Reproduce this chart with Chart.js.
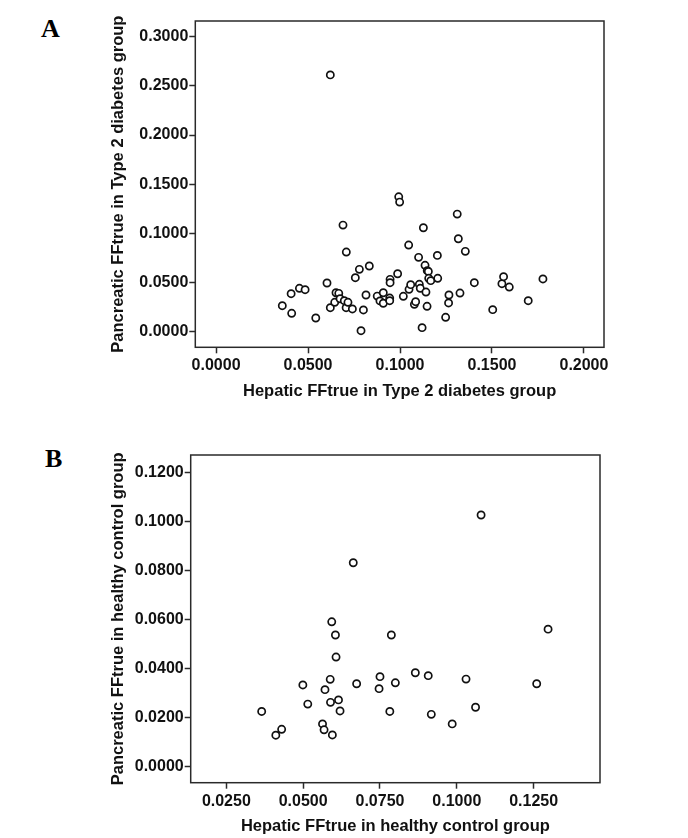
<!DOCTYPE html>
<html lang="en">
<head>
<meta charset="UTF-8">
<title>Hepatic vs pancreatic FFtrue</title>
<script src="https://cdn.jsdelivr.net/npm/chart.js@4.4.0/dist/chart.umd.min.js"></script>
<style>
    body {
        margin: 0;
        width: 688px;
        height: 838px;
        position: relative;
        overflow: hidden;
        background: #fff;
    }
    .panel {
        position: absolute;
        left: 0;
        width: 688px;
    }
    #panelA { top: 0; height: 420px; }
    #panelB { top: 420px; height: 418px; }
    .letter {
        position: absolute;
        font-family: "Liberation Serif", "Times New Roman", serif;
        font-weight: bold;
        font-size: 26px;
        line-height: 26px;
        color: #000;
    }
</style>
</head>
<body>
<div class="letter" style="left:41px; top:16px;">A</div>
<div class="letter" style="left:45px; top:446px;">B</div>
<div class="panel" id="panelA"><canvas id="chartA"></canvas></div>
<div class="panel" id="panelB"><canvas id="chartB"></canvas></div>

<script>
// Panel A: Type 2 diabetes group
const hepaticT2D = [
    0.0360, 0.0408, 0.0411, 0.0453, 0.0484, 0.0542, 0.0603, 0.0621, 0.0645, 0.0652,
    0.0667, 0.0674, 0.0690, 0.0697, 0.0707, 0.0708, 0.0717, 0.0741, 0.0757, 0.0779,
    0.0788, 0.0801, 0.0815, 0.0833, 0.0876, 0.0891, 0.0909, 0.0909, 0.0946, 0.0946,
    0.0944, 0.0944, 0.0987, 0.0993, 0.0998, 0.1018, 0.1047, 0.1049, 0.1058, 0.1078,
    0.1085, 0.1101, 0.1105, 0.1110, 0.1120, 0.1127, 0.1136, 0.1141, 0.1148, 0.1154,
    0.1147, 0.1156, 0.1167, 0.1203, 0.1205, 0.1248, 0.1264, 0.1266, 0.1311, 0.1317,
    0.1326, 0.1355, 0.1404, 0.1504, 0.1554, 0.1563, 0.1594, 0.1697, 0.1777, 0.0621
];
const pancreaticT2D = [
    0.0264, 0.0386, 0.0187, 0.0441, 0.0427, 0.0139, 0.0495, 0.0244, 0.0299, 0.0396,
    0.0390, 0.0335, 0.1084, 0.0315, 0.0244, 0.0810, 0.0299, 0.0231, 0.0549, 0.0634,
    0.0010, 0.0221, 0.0373, 0.0668, 0.0362, 0.0313, 0.0396, 0.0289, 0.0532, 0.0498,
    0.0342, 0.0315, 0.0589, 0.1372, 0.1318, 0.0360, 0.0881, 0.0431, 0.0478, 0.0278,
    0.0305, 0.0756, 0.0482, 0.0441, 0.0041, 0.1057, 0.0675, 0.0403, 0.0620, 0.0613,
    0.0258, 0.0543, 0.0519, 0.0776, 0.0543, 0.0146, 0.0292, 0.0373, 0.1196, 0.0945,
    0.0393, 0.0817, 0.0498, 0.0224, 0.0488, 0.0559, 0.0454, 0.0315, 0.0536, 0.2612
];
const xTicksA = [0, 0.05, 0.10, 0.15, 0.20];
const yTicksA = [0, 0.05, 0.10, 0.15, 0.20, 0.25, 0.30];

// Panel B: healthy control group
const hepaticControl = [
    0.0365, 0.0411, 0.0430, 0.0499, 0.0515, 0.0563, 0.0568, 0.0571, 0.0588, 0.0589,
    0.0595, 0.0605, 0.0607, 0.0615, 0.0620, 0.0674, 0.0747, 0.0750, 0.0782, 0.0787,
    0.0800, 0.0865, 0.0907, 0.0917, 0.0985, 0.1030, 0.1061, 0.1260, 0.1297, 0.0593,
    0.1079, 0.0663
];
const pancreaticControl = [
    0.0224, 0.0127, 0.0151, 0.0332, 0.0254, 0.0173, 0.0149, 0.0313, 0.0355, 0.0261,
    0.0128, 0.0536, 0.0446, 0.0271, 0.0226, 0.0337, 0.0317, 0.0366, 0.0224, 0.0536,
    0.0341, 0.0382, 0.0370, 0.0212, 0.0173, 0.0356, 0.0241, 0.0337, 0.0560, 0.0590,
    0.1026, 0.0831
];
const xTicksB = [0.025, 0.050, 0.075, 0.100, 0.125];
const yTicksB = [0, 0.02, 0.04, 0.06, 0.08, 0.10, 0.12];

Chart.defaults.font.family = '"Liberation Sans", Arial, Helvetica, sans-serif';
Chart.defaults.color = '#111';

const INK = '#2a2a2a';

// box around the plot area
const framePlugin = {
    id: 'frame',
    beforeDatasetsDraw(chart) {
        const { ctx, chartArea: a } = chart;
        ctx.save();
        ctx.strokeStyle = INK;
        ctx.lineWidth = 1.5;
        ctx.strokeRect(a.left, a.top, a.right - a.left, a.bottom - a.top);
        ctx.restore();
    }
};

function axis(cfg) {
    return {
        type: 'linear',
        min: cfg.min,
        max: cfg.max,
        afterBuildTicks: scale => { scale.ticks = cfg.ticks.map(v => ({ value: v })); },
        afterFit: cfg.fit,
        grid: {
            display: true,
            drawOnChartArea: false,
            drawTicks: true,
            tickLength: 6,
            tickWidth: 1.5,
            tickColor: INK,
            color: INK
        },
        border: { display: false },
        ticks: {
            autoSkip: false,
            maxRotation: 0,
            padding: cfg.tickPad,
            color: '#111',
            font: { size: 16, weight: 'bold' },
            callback: v => Number(v).toFixed(4)
        },
        title: {
            display: true,
            text: cfg.title,
            color: '#111',
            font: { size: 16.5, weight: 'bold' },
            padding: { top: 0, bottom: 0 }
        }
    };
}

function makeChart(id, xs, ys, o) {
    const points = xs.map((x, i) => ({ x: x, y: ys[i] }));
    return new Chart(document.getElementById(id), {
        type: 'scatter',
        data: {
            datasets: [{
                data: points,
                pointRadius: 3.6,
                pointBorderWidth: 1.7,
                borderColor: '#111',
                backgroundColor: '#fff'
            }]
        },
        options: {
            responsive: true,
            maintainAspectRatio: false,
            animation: false,
            events: [],
            layout: { padding: o.padding },
            plugins: {
                legend: { display: false },
                tooltip: { enabled: false }
            },
            scales: {
                x: axis({
                    min: o.xMin, max: o.xMax, ticks: o.xTicks, title: o.xTitle, tickPad: 3,
                    fit: s => { s.height = 54; }
                }),
                y: axis({
                    min: o.yMin, max: o.yMax, ticks: o.yTicks, title: o.yTitle, tickPad: 1,
                    fit: s => { s.width = o.yWidth; }
                })
            }
        },
        plugins: [framePlugin]
    });
}

makeChart('chartA', hepaticT2D, pancreaticT2D, {
    xMin: -0.0113, xMax: 0.2109, yMin: -0.0159, yMax: 0.316,
    xTicks: xTicksA, yTicks: yTicksA,
    xTitle: 'Hepatic FFtrue in Type 2 diabetes group',
    yTitle: 'Pancreatic FFtrue in Type 2 diabetes group',
    padding: { left: 109, right: 84, top: 21, bottom: 18.7 },
    yWidth: 86.3
});

makeChart('chartB', hepaticControl, pancreaticControl, {
    xMin: 0.0134, xMax: 0.1466, yMin: -0.0067, yMax: 0.1271,
    xTicks: xTicksB, yTicks: yTicksB,
    xTitle: 'Hepatic FFtrue in healthy control group',
    yTitle: 'Pancreatic FFtrue in healthy control group',
    padding: { left: 109, right: 88, top: 35, bottom: 1.3 },
    yWidth: 81.7
});
</script>
</body>
</html>
